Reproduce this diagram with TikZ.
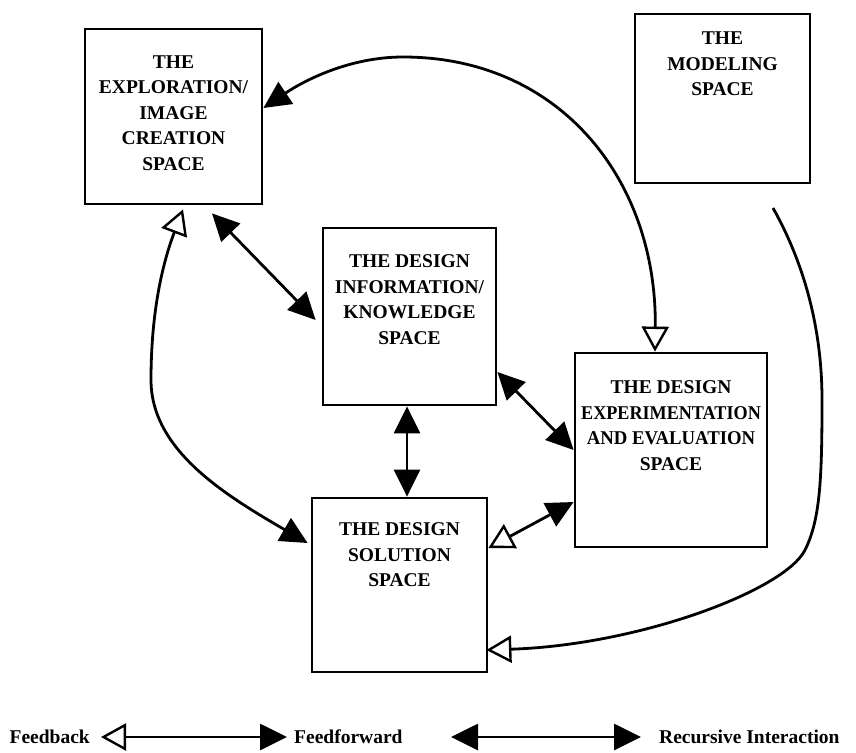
\documentclass[tikz,border=0pt]{standalone}
\usepackage{fontspec}
\setmainfont{Liberation Serif}
\usetikzlibrary{arrows.meta,calc}

\begin{document}
\begin{tikzpicture}[x=1pt,y=1pt,
  space/.style={draw, line width=2.8pt, inner sep=0pt, minimum width=#1},
  spacetext/.style={anchor=north, inner sep=0pt, align=center,
    font=\bfseries\fontsize{19.5}{25.5}\selectfont},
  legendtext/.style={inner sep=0pt, font=\bfseries\fontsize{19.5}{22}\selectfont},
  link/.style={line width=2.8pt},
  fwd/.tip={Triangle[length=27pt,width=26pt]},
  back/.tip={Triangle[open,length=25pt,width=27pt,line width=2.4pt]},
]
\useasboundingbox (0,0) rectangle (856,-752);

% the five spaces
\node[space=177pt, minimum height=175pt] (explore) at (173.5,-116.5) {};
\node[space=175pt, minimum height=169pt] (model)   at (722.5,-98.5) {};
\node[space=173pt, minimum height=177pt] (know)    at (409.5,-316.5) {};
\node[space=192pt, minimum height=194pt] (exper)   at (671,-450) {};
\node[space=175pt, minimum height=174pt] (solve)   at (399.5,-585) {};

\node[spacetext] at ([yshift=-27.5]explore.north) {THE\\EXPLORATION/\\IMAGE\\CREATION\\SPACE};
\node[spacetext] at ([yshift=-19]model.north) {THE\\MODELING\\SPACE};
\node[spacetext] at ([yshift=-28]know.north) {THE DESIGN\\INFORMATION/\\KNOWLEDGE\\SPACE};
\node[spacetext] at ([yshift=-29]exper.north)
  {THE DESIGN\\\scalebox{0.93}[1]{EXPERIMENTATION}\\\scalebox{0.96}[1]{AND EVALUATION}\\SPACE};
\node[spacetext] at ([yshift=-26]solve.north) {THE DESIGN\\SOLUTION\\SPACE};

% upper arc: experimentation feeds back, exploration fed forward
\draw[link, {fwd}-{back}] ([yshift=8.5]explore.east)
  .. controls (305,-80) and (350,-57) .. (403,-57)
  .. controls (560,-57) and (657,-180) .. ([xshift=-16]exper.north);

% exploration <-> knowledge
\draw[link, {fwd}-{fwd}] ([shift={(38.5,-8)}]explore.south) -- ([shift={(-6,-3.5)}]know.west);

% knowledge <-> solution
\draw[link, {fwd}-{fwd}] ([xshift=-2.5]know.south) -- ([xshift=7.5]solve.north);

% knowledge <-> experimentation
\draw[link, {fwd}-{fwd}] ([yshift=-55.5]know.east) -- ([yshift=0]exper.west);

% solution <-> experimentation
\draw[link, {back}-{fwd}] ([yshift=37]solve.east) -- ([yshift=-52]exper.west);

% left arc: exploration <-> solution
\draw[link, {back}-{fwd}] ([shift={(9.5,-4)}]explore.south)
  .. controls (160,-270) and (151,-320) .. (151,-380)
  .. controls (151,-450) and (225,-495) .. ([shift={(-3,42)}]solve.west);

% right curve from the modeling space down to the solution space
\coordinate (modelout) at (773,-208);
\draw[link, -{back}] (modelout)
  .. controls (805,-265) and (822,-330) .. (822,-400)
  .. controls (822,-480) and (820,-520) .. (805,-550)
  .. controls (785,-590) and (640,-645) .. ([shift={(-2,-65)}]solve.east);

% legend
\node[legendtext, anchor=east] (fb) at (90,-737) {Feedback};
\node[legendtext, anchor=west] (ff) at (294,-737) {Feedforward};
\node[legendtext, anchor=west] (ri) at (659,-737) {Recursive Interaction};
\coordinate (fbtip) at (101,-737);
\coordinate (fftip) at (287,-737);
\coordinate (ritipa) at (451,-737);
\coordinate (ritipb) at (641,-737);
\draw[link, {back}-{fwd}] (fbtip) -- (fftip);
\draw[link, {fwd}-{fwd}] (ritipa) -- (ritipb);
\end{tikzpicture}
\end{document}
